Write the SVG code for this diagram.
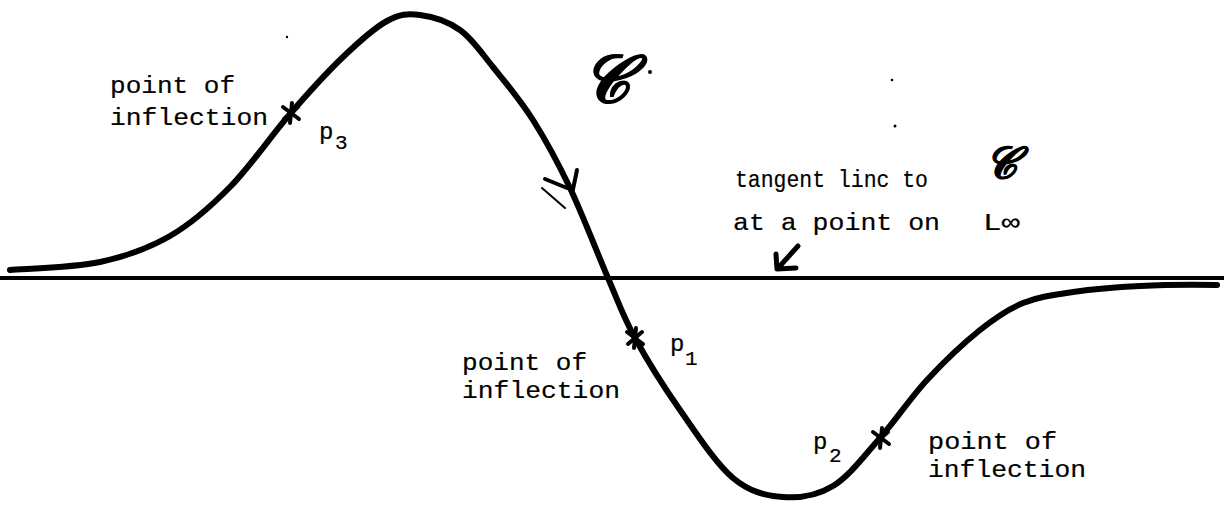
<svg xmlns="http://www.w3.org/2000/svg" xmlns:xlink="http://www.w3.org/1999/xlink" width="1224" height="507" viewBox="0 0 1224 507">
<style>
.ink{fill:none;stroke:#000;stroke-linecap:round;stroke-linejoin:round}
.tw{font-family:"Liberation Mono","DejaVu Sans Mono",monospace;font-size:24px;fill:#000;stroke:#000;stroke-width:0.2}
.sub{font-family:"Liberation Mono","DejaVu Sans Mono",monospace;font-size:21px;fill:#000;stroke:#000;stroke-width:0.2}
.scr{font-family:"DejaVu Serif","Noto Sans","Liberation Serif",serif;fill:#000;font-style:italic;font-weight:bold;stroke:#000;stroke-width:1}
</style>
<defs>
<g id="star" class="ink" stroke-width="4">
<line x1="-8" y1="-6" x2="8" y2="6"/>
<line x1="-7" y1="6" x2="7" y2="-6"/>
<line x1="1" y1="-10" x2="-1" y2="10"/>
</g>
</defs>
<rect width="1224" height="507" fill="#fff"/>
<g id="axis">
<line class="ink" x1="0" y1="278" x2="1224" y2="278" stroke-width="4"/>
</g>
<g id="curve">
<path class="ink" stroke-width="6" d="M10 270 C25 268.7 73.3 267.7 100 262 C126.7 256.3 148.3 248.5 170 236 C191.7 223.5 210 207.3 230 187 C250 166.7 271.2 135.7 290 114 C308.8 92.3 326.8 72.5 343 57 C359.2 41.5 374.2 28 387 21 C399.8 14 407.8 13.5 420 15 C432.2 16.5 447.8 21.3 460 30 C472.2 38.7 480.8 52 493 67 C505.2 82 520.2 99.8 533 120 C545.8 140.2 557.5 161.7 570 188 C582.5 214.3 597.2 253 608 278 C618.8 303 623 316 635 338 C647 360 663.7 386.7 680 410 C696.3 433.3 715.8 463.5 733 478 C750.2 492.5 766.3 495.7 783 497 C799.7 498.3 816.8 495.8 833 486 C849.2 476.2 864.3 455.7 880 438 C895.7 420.3 910.3 398 927 380 C943.7 362 964 342.8 980 330 C996 317.2 1007.5 309.3 1023 303 C1038.5 296.7 1053.5 294.8 1073 292 C1092.5 289.2 1116 287.2 1140 286 C1164 284.8 1204.2 284.8 1217 285"/>
</g>
<g id="direction-mark" class="ink">
<line x1="545" y1="179" x2="567" y2="188" stroke-width="4"/>
<line x1="542" y1="188" x2="565" y2="208" stroke-width="2"/>
<line x1="577" y1="170" x2="572" y2="194" stroke-width="4"/>
</g>
<g id="p3">
<use xlink:href="#star" x="291" y="113"/>
<text class="tw" x="110" y="93" textLength="125" lengthAdjust="spacingAndGlyphs">point of</text>
<text class="tw" x="110" y="125" textLength="158" lengthAdjust="spacingAndGlyphs">inflection</text>
<text class="tw" x="319" y="139">p</text>
<text class="sub" x="335" y="149">3</text>
</g>
<g id="p1">
<use xlink:href="#star" x="635" y="338"/>
<text class="tw" x="462" y="370" textLength="125" lengthAdjust="spacingAndGlyphs">point of</text>
<text class="tw" x="462" y="398" textLength="158" lengthAdjust="spacingAndGlyphs">inflection</text>
<text class="tw" x="670" y="351">p</text>
<text class="sub" x="685" y="365">1</text>
</g>
<g id="p2">
<use xlink:href="#star" x="881" y="438"/>
<text class="tw" x="813" y="449">p</text>
<text class="sub" x="829" y="462">2</text>
<text class="tw" x="928" y="449" textLength="129" lengthAdjust="spacingAndGlyphs">point of</text>
<text class="tw" x="928" y="477" textLength="158" lengthAdjust="spacingAndGlyphs">inflection</text>
</g>
<g id="curve-label">
<text class="scr" x="582" y="102" font-size="66">𝒞</text>
</g>
<g id="tangent-label">
<text class="tw" x="735" y="187" font-size="22" textLength="193" lengthAdjust="spacingAndGlyphs">tangent linc to</text>
<text class="scr" x="985" y="178" font-size="44">𝒞</text>
<text class="tw" x="733" y="230" textLength="207" lengthAdjust="spacingAndGlyphs">at a point on</text>
<text class="tw" x="983" y="230" textLength="37" lengthAdjust="spacingAndGlyphs">L∞</text>
<path class="ink" stroke-width="5" d="M798 246 L780 266 M776 254 L777 269 L796 268"/>
</g>
<g id="specks" fill="#000">
<circle cx="650" cy="72" r="2"/>
<circle cx="287" cy="37" r="1.2"/>
<circle cx="892" cy="80" r="1.3"/>
<circle cx="895" cy="126" r="1.5"/>
</g>
</svg>
